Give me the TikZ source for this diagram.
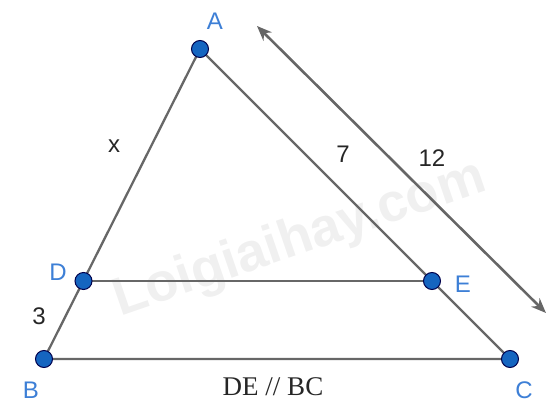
\documentclass[tikz,border=0pt]{standalone}
\usepackage{fontspec}
\setmainfont{Liberation Sans}
\newfontfamily\serifx{Liberation Serif}
\usetikzlibrary{arrows.meta}
\definecolor{ptblue}{HTML}{1565C0}
\definecolor{lblblue}{HTML}{3D7FD6}
\definecolor{linegray}{HTML}{676767}
\begin{document}
\begin{tikzpicture}[x=1pt,y=-1pt,
  seg/.style={draw=linegray,line width=2.3pt},
  pt/.style={circle,fill=ptblue,draw=black!70!blue,line width=1pt,minimum size=17pt,inner sep=0pt},
  ptlbl/.style={text=lblblue,font=\fontsize{24}{24}\selectfont,inner sep=0pt},
  numlbl/.style={text=black!85,font=\fontsize{24}{24}\selectfont,inner sep=0pt}]
\useasboundingbox (0,0) rectangle (547,406);
% watermark
\node[rotate=19,text=gray!12,font=\bfseries\fontsize{54}{54}\selectfont] (wm) at (300,240) {Loigiaihay.com};
% points
\coordinate (A) at (200,49);
\coordinate (B) at (44,359);
\coordinate (C) at (510,359);
\coordinate (D) at (83.5,281);
\coordinate (E) at (432,281);
\draw[seg] (A) -- (B) -- (C) -- cycle;
\draw[seg] (D) -- (E);
% double arrow
\coordinate (P) at (257,26);
\coordinate (Q) at (546,313);
\draw[draw=black!60,line width=2.6pt,{Stealth[length=15pt,width=12pt,inset=5pt]}-{Stealth[length=15pt,width=12pt,inset=5pt]}] (P) -- (Q);
\node[pt] (nA) at (A) {};
\node[pt] (nB) at (B) {};
\node[pt] (nC) at (C) {};
\node[pt] (nD) at (D) {};
\node[pt] (nE) at (E) {};
% labels
\node[ptlbl] (lA) at (215,21) {A};
\node[ptlbl] (lB) at (31,390) {B};
\node[ptlbl] (lC) at (524,390) {C};
\node[ptlbl] (lD) at (58,272) {D};
\node[ptlbl] (lE) at (463,284) {E};
\node[numlbl] (lx) at (114,146) {x};
\node[numlbl] (l7) at (343,154) {7};
\node[numlbl] (l12) at (432,158) {12};
\node[numlbl] (l3) at (39,316) {3};
\node[text=black!85,font=\serifx\fontsize{27}{27}\selectfont,inner sep=0pt] (par) at (273,387) {DE // BC};
\end{tikzpicture}
\end{document}
